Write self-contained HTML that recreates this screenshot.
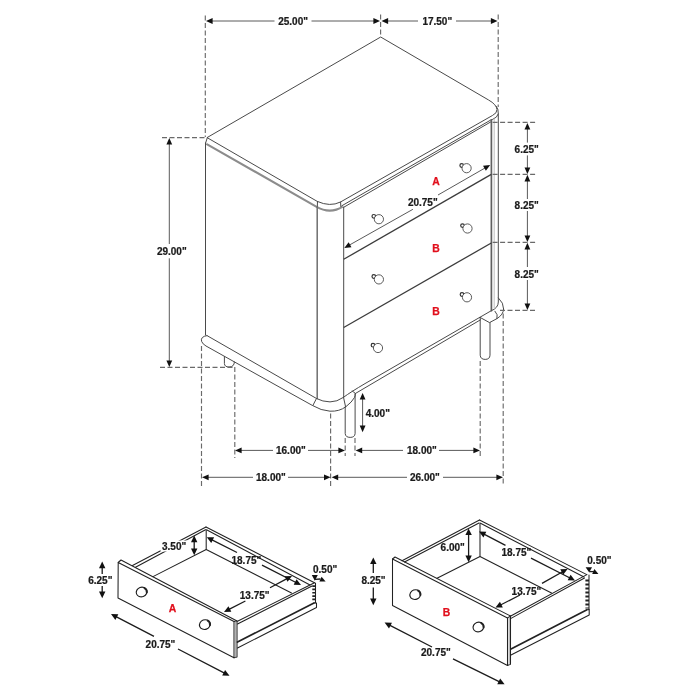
<!DOCTYPE html>
<html><head><meta charset="utf-8">
<style>
html,body{margin:0;padding:0;background:#fff;}
body{width:700px;height:700px;overflow:hidden;}
svg{display:block;will-change:transform;}
text{font-family:"Liberation Sans",sans-serif;font-weight:bold;font-size:10px;fill:#1a1a1a;stroke:#1a1a1a;stroke-width:0.22px;paint-order:stroke;}
.r{stroke:#e10f1c;stroke-width:0.25px;}
.r{fill:#e10f1c;font-size:10.4px;}
.o{fill:none;stroke:#4a4a4a;stroke-width:1;stroke-linecap:round;stroke-linejoin:round;}
.g{fill:none;stroke:#8c8c8c;stroke-width:2.1;stroke-linecap:butt;}
.lg{fill:none;stroke:#a8a8a8;stroke-width:0.9;}
.d{fill:none;stroke:#5a5a5a;stroke-width:1;}
.ds{fill:none;stroke:#6a6a6a;stroke-width:1.15;stroke-dasharray:5 2.5;}
.k{fill:#fff;stroke:#4a4a4a;stroke-width:0.9;}
.a{fill:#111;stroke:none;}
.t{fill:none;stroke:#3c3c3c;stroke-width:1.3;}
.b path{fill:none;stroke:#222;stroke-width:1.05;stroke-linejoin:round;stroke-linecap:round;}
.b path.bt{stroke-width:1.7;}
.b path.dv{stroke-width:3.2;stroke-dasharray:1.7 1.65;stroke-linecap:butt;}
.b path.dv2{stroke-width:3.6;stroke-dasharray:2.1 1.9;stroke-linecap:butt;}
.kn{fill:#fff;stroke:#1c1c1c;stroke-width:1.1;}
.bd{fill:none;stroke:#1c1c1c;stroke-width:1.3;}
</style></head><body>
<svg width="700" height="700" viewBox="0 0 700 700">
<defs>
<path id="ah" d="M0,0 L-6.6,-2.9 L-6.6,2.9 Z"/>
<path id="ah2" d="M0,0 L-6.6,-3.2 L-6.6,3.2 Z"/>
</defs>
<rect width="700" height="700" fill="#fff"/>

<!-- ===== MAIN DRESSER ===== -->
<g id="dresser">
<!-- top face outline -->
<path class="o" d="M207.4,137.4 L380.7,37 L488.6,100 Q496.6,104.6 497,109.5 Q497.2,113 492.6,115.4 L340.5,202 Q330,207.2 317.5,201.5 Z"/>
<!-- slab bottom left-front (thick gray) -->
<path class="g" d="M206.3,143.8 L316.2,206.6 Q330,214.6 342.8,206.6"/>
<path class="o" d="M207.4,137.4 L205.6,143"/>
<path class="o" d="M317.5,201.5 L317.3,207 M340.6,202 L340.8,206.5"/>
<!-- slab bottom right-front -->
<path class="o" d="M341.8,205.8 L491.5,119.6"/>
<path class="o" d="M343.7,207.3 L491.3,121.6"/>
<!-- right corner slab -->
<path class="o" d="M496.4,106.4 Q498.6,109 498.3,114 L498.3,302 Q498.3,308 491.4,310.7"/>
<path class="o" d="M498.3,114 Q497.5,117.5 492.5,119.5"/>
<!-- verticals -->
<path class="o" d="M205.5,143 L205.5,335"/>
<path class="o" style="stroke:#6e6e6e;stroke-width:1.5" d="M317.2,207 L317.2,398.6"/>
<path class="o" d="M343.7,207 L343.7,397.3"/>
<path class="o" style="stroke:#606060;stroke-width:1.7" d="M491.4,119.8 L491.4,310.7"/>
<path style="fill:none;stroke:#b8b8b8;stroke-width:0.9" d="M494.2,118.5 L494.2,308.5"/>
<!-- drawer dividers -->
<path class="t" d="M343.7,259.3 L491.3,174.4"/>
<path class="t" d="M343.7,327.5 L491.3,243"/>
<!-- body bottom / base top -->
<path class="o" d="M491.3,310.7 L365,383.6 Q351,391.8 343.5,397.3 Q337,401.9 330,401.9 Q322.5,401.7 316.5,398.5 L207,335.6"/>
<path class="o" d="M480.5,319.8 L355.2,393.6"/>
<!-- base left side -->
<path class="o" d="M207,335.6 Q200.2,336.6 201.6,341.4 Q202.6,344 206,346 L290,393 L312.5,405.5 Q321,410.6 330,411.2 Q339.5,411.6 346,406.6 Q352,402 354.4,397.6 Q355.9,394.6 355.1,393.4 Q354,391.8 352.2,391"/>
<path class="o" d="M316.5,398.5 L312.8,405.6 M343.5,397.3 L345.6,406.8"/>
<!-- base right end -->
<path class="o" d="M498.5,298 Q503.8,303 503.6,309 Q503.4,314.5 497,318.6 L489.5,322.6 L480.2,317.5"/>
<path class="o" d="M495,311.2 Q498.4,314.5 497,318.6"/>
<!-- right leg -->
<path class="o" d="M480.2,317.5 L480.2,355.2 Q480.5,359.4 485.2,359.4 Q489.8,359.4 490,355.2 L490,322.5" fill="#fff"/>
<!-- front leg -->
<path class="o" d="M345.2,407 L345.2,433.6 Q345.5,437.4 350.2,437.4 Q354.8,437.4 355.1,433.6 L355.1,394"/>
<!-- back-left leg -->
<path class="o" d="M224.4,356.5 L224.4,363.5 Q224.6,367 229,367 Q234.3,367 234.4,362"/>
<!-- knobs -->
<g class="k">
<circle cx="373.8" cy="216.3" r="1.8" style="stroke:#333;stroke-width:1.2"/><circle cx="378.9" cy="219.2" r="4.6"/>
<circle cx="461.7" cy="165.5" r="1.8" style="stroke:#333;stroke-width:1.2"/><circle cx="466.6" cy="168.2" r="4.6"/>
<circle cx="373.8" cy="276.5" r="1.8" style="stroke:#333;stroke-width:1.2"/><circle cx="378.9" cy="279.4" r="4.6"/>
<circle cx="462.5" cy="225.6" r="1.8" style="stroke:#333;stroke-width:1.2"/><circle cx="467.5" cy="228.5" r="4.6"/>
<circle cx="373" cy="345.2" r="1.8" style="stroke:#333;stroke-width:1.2"/><circle cx="378" cy="348" r="4.6"/>
<circle cx="462" cy="294.5" r="1.8" style="stroke:#333;stroke-width:1.2"/><circle cx="467" cy="297.3" r="4.6"/>
</g>
</g>

<!-- ===== MAIN DIMENSIONS ===== -->
<g id="dims">
<path class="ds" d="M205.3,15.4 L205.3,137"/>
<path class="ds" d="M380.6,14.5 L380.6,37"/>
<path class="ds" d="M498.2,14.5 L498.2,107"/>
<path class="d" d="M211,21 L274.5,21 M311.5,21 L375,21 M387,21 L418,21 M456,21 L492,21"/>
<use href="#ah" class="a" transform="translate(206,21) rotate(180)"/>
<use href="#ah" class="a" transform="translate(380,21)"/>
<use href="#ah" class="a" transform="translate(381.5,21) rotate(180)"/>
<use href="#ah" class="a" transform="translate(497.5,21)"/>
<text x="278.2" y="24.6">25.00"</text>
<text x="422.4" y="24.6">17.50"</text>

<!-- left 29 -->
<path class="ds" d="M162,137.6 L207,137.6"/>
<path class="ds" d="M160,367.4 L234,367.4"/>
<path class="d" d="M169.3,143 L169.3,244 M169.3,258.3 L169.3,362"/>
<use href="#ah" class="a" transform="translate(169.3,138) rotate(-90)"/>
<use href="#ah" class="a" transform="translate(169.3,367) rotate(90)"/>
<text x="156.9" y="254.7">29.00"</text>

<!-- right dims -->
<path class="ds" d="M492.6,122.4 L535.5,122.4"/>
<path class="ds" d="M492.6,174.3 L535.5,174.3"/>
<path class="ds" d="M492.6,242.3 L535.5,242.3"/>
<path class="ds" d="M500,310.4 L535.5,310.4"/>
<path class="d" d="M527.4,128 L527.4,142.6 M527.4,155.4 L527.4,169 M527.4,180 L527.4,199 M527.4,211 L527.4,237 M527.4,248 L527.4,267 M527.4,280 L527.4,305"/>
<use href="#ah" class="a" transform="translate(527.4,123) rotate(-90)"/>
<use href="#ah" class="a" transform="translate(527.4,174) rotate(90)"/>
<use href="#ah" class="a" transform="translate(527.4,174.8) rotate(-90)"/>
<use href="#ah" class="a" transform="translate(527.4,242) rotate(90)"/>
<use href="#ah" class="a" transform="translate(527.4,242.8) rotate(-90)"/>
<use href="#ah" class="a" transform="translate(527.4,310) rotate(90)"/>
<text x="514.6" y="153.3">6.25"</text>
<text x="514.6" y="208.7">8.25"</text>
<text x="514.6" y="277.7">8.25"</text>

<!-- 20.75 on drawer A -->
<path class="d" d="M349.5,245 L412.9,209.3 M438,195 L485,168"/>
<use href="#ah" class="a" transform="translate(344.3,248) rotate(150.5)"/>
<use href="#ah" class="a" transform="translate(490.2,165) rotate(-29.5)"/>
<text x="407.9" y="205.8">20.75"</text>
<text class="r" x="432.2" y="184.7">A</text>
<text class="r" x="432.3" y="252.2">B</text>
<text class="r" x="432.3" y="314.5">B</text>

<!-- bottom dims -->
<path class="ds" d="M201.5,346 L201.5,486"/>
<path class="ds" d="M234.8,367 L234.8,458"/>
<path class="ds" d="M330.6,413.5 L330.6,486"/>
<path class="ds" d="M345.2,438 L345.2,456"/>
<path class="ds" d="M355,438 L355,456"/>
<path class="ds" d="M480.2,361 L480.2,458"/>
<path class="ds" d="M503.2,313.6 L503.2,485.5"/>
<path class="d" d="M240,450.4 L273,450.4 M308,450.4 L340,450.4 M361,450.4 L403,450.4 M439,450.4 L475,450.4"/>
<use href="#ah" class="a" transform="translate(235,450.4) rotate(180)"/>
<use href="#ah" class="a" transform="translate(345,450.4)"/>
<use href="#ah" class="a" transform="translate(355.6,450.4) rotate(180)"/>
<use href="#ah" class="a" transform="translate(480,450.4)"/>
<text x="276" y="454">16.00"</text>
<text x="407" y="454">18.00"</text>
<path class="d" d="M207,477.3 L253,477.3 M288,477.3 L325,477.3 M337,477.3 L407,477.3 M443,477.3 L498,477.3"/>
<use href="#ah" class="a" transform="translate(202,477.3) rotate(180)"/>
<use href="#ah" class="a" transform="translate(330.6,477.3)"/>
<use href="#ah" class="a" transform="translate(331.6,477.3) rotate(180)"/>
<use href="#ah" class="a" transform="translate(503,477.3)"/>
<text x="256" y="481">18.00"</text>
<text x="410" y="481">26.00"</text>
<!-- 4.00 -->
<path class="d" d="M362.6,399 L362.6,427"/>
<use href="#ah" class="a" transform="translate(362.6,393) rotate(-90)"/>
<use href="#ah" class="a" transform="translate(362.6,432.2) rotate(90)"/>
<text x="365.7" y="416.6">4.00"</text>
</g>

<!-- ===== DRAWER A ===== -->
<g id="drawerA" class="b">
<!-- front panel -->
<path d="M118.2,562.5 L234,621.5 L234,657.8 L118,598 Z"/>
<path d="M118.2,562.5 L121,560 L237,621 L237,657 L234,657.8"/>
<path d="M234,621.5 L237,621"/>
<path style="stroke:#888;stroke-width:0.8" d="M235.7,621.6 L235.7,657.2"/>
<!-- left side panel -->
<path d="M132.5,565.5 L206,527 M135.5,567.2 L205.5,529.8"/>
<path d="M153,576.6 L206.2,549.5 L206.2,529.5"/>
<!-- back panel -->
<path d="M206,527 L314.5,582.7 M207,530 L310,585"/>
<path d="M206.2,549.5 L291.5,593"/>
<!-- right side panel -->
<path d="M237.5,621.3 L314.5,582.7 M237.5,624 L312,586"/>
<path d="M315.5,583 L315.5,602.8"/>
<path class="bt" d="M237.5,642 L314,603"/>
<path d="M237.5,648 L316.5,607.5 L316.5,603 L314,603"/>
<path class="dv" d="M313.9,585.2 L313.9,602"/>
<!-- knobs -->
<ellipse class="kn" cx="141.6" cy="592.0" rx="5.4" ry="4.8" transform="rotate(-20 141.6 592.0)"/>
<path class="bt" style="stroke-width:2" d="M144.5,588.1 Q147.1,589.4 146.8,592.4"/>
<ellipse class="kn" cx="204.8" cy="624.6" rx="5.4" ry="4.8" transform="rotate(-20 204.8 624.6)"/>
<path class="bt" style="stroke-width:2" d="M207.7,620.7 Q210.3,622.0 210.0,625.0"/>
</g>
<g id="dimsA">
<path class="bd" d="M102.2,567 L102.2,574 M102.2,586 L102.2,593"/>
<use href="#ah2" class="a" transform="translate(102.2,561.6) rotate(-90)"/>
<use href="#ah2" class="a" transform="translate(102.2,598.2) rotate(90)"/>
<text x="88.2" y="583.6">6.25"</text>
<path class="bd" d="M194.2,541 L194.2,550"/>
<use href="#ah2" class="a" transform="translate(194.2,535.6) rotate(-90)"/>
<use href="#ah2" class="a" transform="translate(194.2,555.2) rotate(90)"/>
<rect x="160.5" y="540.5" width="27" height="11" fill="#fff"/>
<text x="162" y="549.6">3.50"</text>
<!-- 20.75 -->
<path class="bd" d="M116,616.6 L154,636.4 M178,649 L224.5,673.2"/>
<use href="#ah2" class="a" transform="translate(111,614) rotate(207.5)"/>
<use href="#ah2" class="a" transform="translate(229.5,675.8) rotate(27.5)"/>
<text x="145.6" y="647.6">20.75"</text>
<!-- 18.75 -->
<path class="bd" d="M212,539.8 L237,552.5 M262,565.2 L296,582.5"/>
<use href="#ah2" class="a" transform="translate(206.8,537.2) rotate(207)"/>
<use href="#ah2" class="a" transform="translate(301,585) rotate(27)"/>
<text x="231.5" y="564">18.75"</text>
<!-- 13.75 -->
<path class="bd" d="M229,609.4 L245.4,601 M270,587.8 L287,578.6"/>
<use href="#ah2" class="a" transform="translate(224,612) rotate(153)"/>
<use href="#ah2" class="a" transform="translate(292,576) rotate(-27)"/>
<text x="239.8" y="598.9">13.75"</text>
<!-- 0.50 -->
<text x="313" y="572.6">0.50"</text>
<path class="a" d="M314.8,580.8 L311.8,575 L317.8,575 Z"/>
<path class="a" d="M321.6,576.8 L325.6,581.6 L319.4,581.6 Z"/>
<path class="bd" d="M315,579.4 L320.5,579"/>
<text class="r" x="168.8" y="611.6">A</text>
</g>

<!-- ===== DRAWER B ===== -->
<g id="drawerB" class="b">
<path d="M392.5,559 L507.5,618 L507.5,665.5 L392.5,605.5 Z"/>
<path d="M392.5,559 L395,557 L510.5,616 L510.5,664.2 L507.5,665.5"/>
<path d="M507.5,618 L510.5,616"/>
<path style="stroke:#888;stroke-width:0.8" d="M509.2,617.2 L509.2,664.6"/>
<!-- left side panel -->
<path d="M402,560.7 L479.5,520 M404.5,562 L479,523"/>
<path d="M437,578.2 L480,556.5 L480,523"/>
<!-- back panel -->
<path d="M479.5,520 L586.8,574.6 M480.5,523.3 L584,577"/>
<path d="M480,556.5 L551.5,593"/>
<!-- right side panel -->
<path d="M510.8,616 L586.8,574.6 M511,618.4 L584.5,578"/>
<path d="M589,575 L589,609.5"/>
<path class="bt" d="M511,649 L586.5,610"/>
<path d="M511,655 L589.2,615 L589.2,609.5 L586.5,609.8"/>
<path class="dv2" d="M587.2,579.5 L587.2,608.5"/>
<!-- knobs -->
<ellipse class="kn" cx="415.2" cy="594.6" rx="5.4" ry="4.8" transform="rotate(-20 415.2 594.6)"/>
<path class="bt" style="stroke-width:2" d="M418.1,590.7 Q420.7,592.0 420.4,595.0"/>
<ellipse class="kn" cx="478.4" cy="627.0" rx="5.4" ry="4.8" transform="rotate(-20 478.4 627.0)"/>
<path class="bt" style="stroke-width:2" d="M481.3,623.1 Q483.9,624.4 483.6,627.4"/>
</g>
<g id="dimsB">
<path class="bd" d="M373.3,563 L373.3,573 M373.3,587.5 L373.3,600"/>
<use href="#ah2" class="a" transform="translate(373.3,557.4) rotate(-90)"/>
<use href="#ah2" class="a" transform="translate(373.3,605.2) rotate(90)"/>
<text x="361.4" y="583.6">8.25"</text>
<path class="bd" d="M468.6,534 L468.6,557"/>
<use href="#ah2" class="a" transform="translate(468.6,528.4) rotate(-90)"/>
<use href="#ah2" class="a" transform="translate(468.6,562.2) rotate(90)"/>
<text x="440.6" y="550.6">6.00"</text>
<!-- 20.75 -->
<path class="bd" d="M389.5,625.2 L432,647 M453,658.8 L499.6,681.8"/>
<use href="#ah2" class="a" transform="translate(384.6,622.6) rotate(207.2)"/>
<use href="#ah2" class="a" transform="translate(504.6,684.3) rotate(27.2)"/>
<text x="421" y="656.2">20.75"</text>
<!-- 18.75 -->
<path class="bd" d="M484,534.2 L505.5,545.4 M531,558.2 L570,578"/>
<use href="#ah2" class="a" transform="translate(479,531.6) rotate(207)"/>
<use href="#ah2" class="a" transform="translate(575,580.5) rotate(27)"/>
<text x="501.5" y="555.6">18.75"</text>
<!-- 13.75 -->
<path class="bd" d="M500.5,605 L520,595 M542,583.4 L562.6,571.8"/>
<use href="#ah2" class="a" transform="translate(495.5,607.6) rotate(153)"/>
<use href="#ah2" class="a" transform="translate(567.6,569) rotate(-27)"/>
<text x="511.6" y="594.6">13.75"</text>
<!-- 0.50 -->
<text x="587.3" y="563.6">0.50"</text>
<path class="a" d="M589.2,572.4 L585.6,567.2 L592,567.2 Z"/>
<path class="a" d="M594.4,569 L598.4,574 L592.2,574 Z"/>
<path class="bd" d="M589.4,571.6 L594,571.6"/>
<text class="r" x="442.8" y="615.6">B</text>
</g>
</svg>
</body></html>
